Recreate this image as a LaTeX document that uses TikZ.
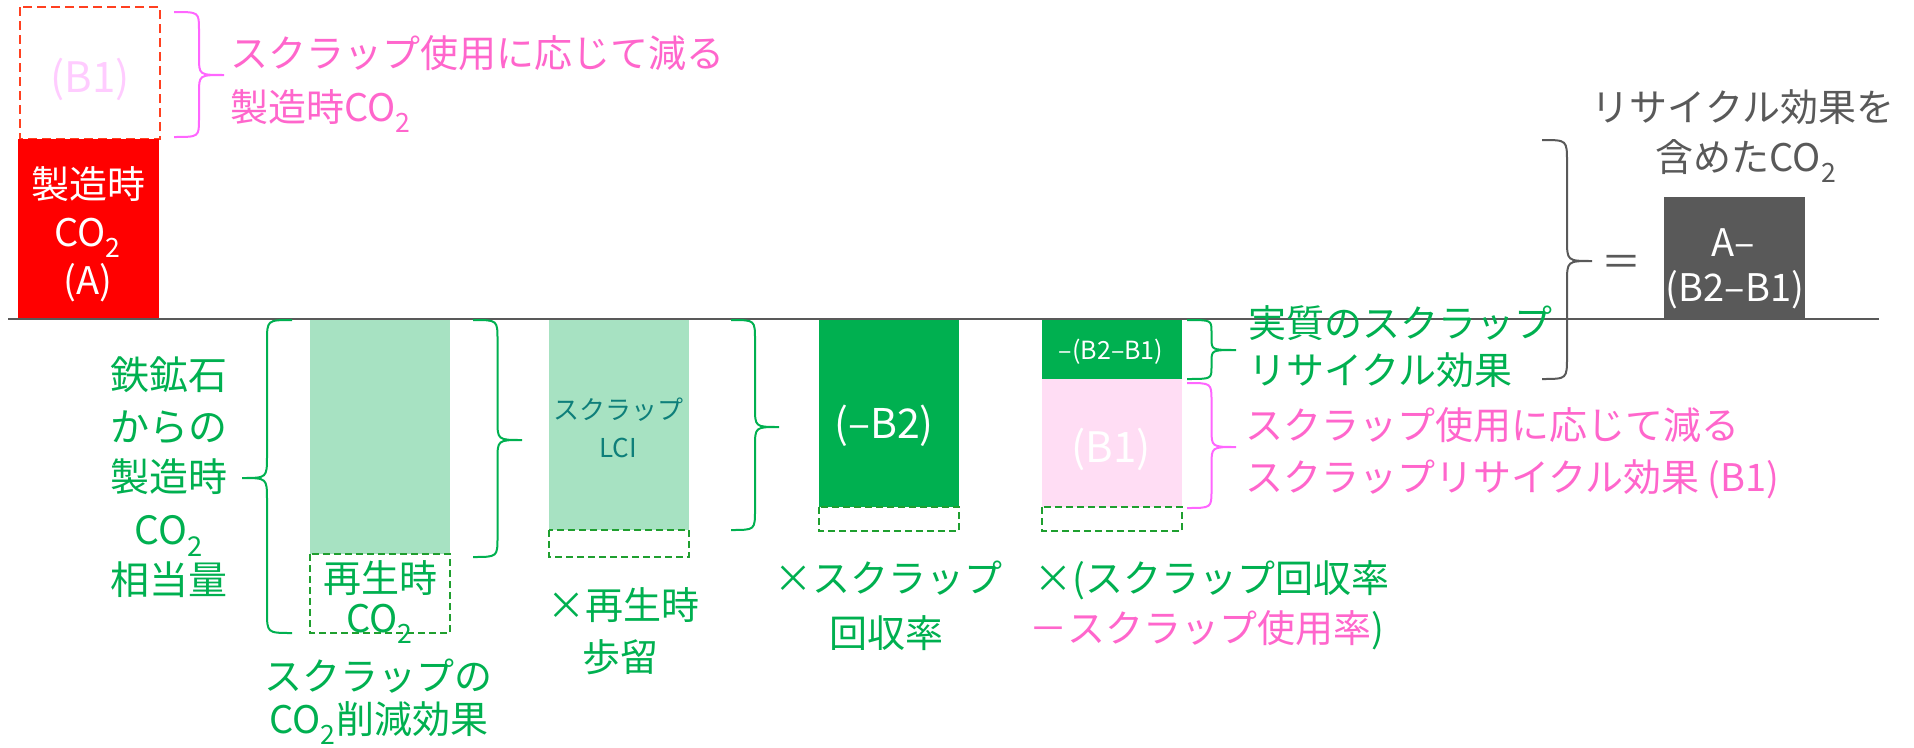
\documentclass[tikz,border=0pt]{standalone}
\usepackage{fontspec}
\setmainfont{Noto Sans CJK JP}
\definecolor{cred}{HTML}{FF0000}
\definecolor{cdred}{HTML}{FF4020}
\definecolor{cpink}{HTML}{FF66CC}
\definecolor{cpinkb}{HTML}{FF66FF}
\definecolor{cpale}{HTML}{FFCCFF}
\definecolor{cpinkbar}{HTML}{FFDDF4}
\definecolor{cgreen}{HTML}{00B050}
\definecolor{clgreen}{HTML}{A7E2C2}
\definecolor{cdgreen}{HTML}{1F9F2F}
\definecolor{cteal}{HTML}{0E7F7A}
\definecolor{cgray}{HTML}{595959}
\newcommand\fsz[1]{\fontsize{#1}{#1}\selectfont}
\newcommand\cotwo{CO\textsubscript{2}}
% text line: name, x, center y, size, color, anchor, text
\newcommand\tx[7]{\node[anchor=#6,text=#5,font=\fsz{#4},inner sep=0pt] (#1) at (#2,{#3+0.38*#4}) {#7};}
% brace: end x, tip x, top y, bottom y, tip y, R, style
\newcommand\brc[7]{%
  \pgfmathsetmacro\bm{(#1+#2)/2}%
  \draw[#7] (#1,#3) .. controls (\bm,#3) .. (\bm,{#3+#6}) -- (\bm,{#5-#6})
    .. controls (\bm,#5) .. (#2,#5) .. controls (\bm,#5) .. (\bm,{#5+#6})
    -- (\bm,{#4-#6}) .. controls (\bm,#4) .. (#1,#4);}
\tikzset{
  gbrace/.style={draw=cgreen,line width=2pt},
  pbrace/.style={draw=cpinkb,line width=2pt},
  kbrace/.style={draw=cgray,line width=2pt},
  gdash/.style={draw=cdgreen,line width=2pt,dash pattern=on 7pt off 4pt},
}
\begin{document}
\begin{tikzpicture}[x=1pt,y=-1pt]
\useasboundingbox (0,0) rectangle (1914,747);
% shapes
\draw[cdred,line width=2.3pt,dash pattern=on 9pt off 5pt] (20,7) rectangle (160,139);
\fill[cred] (18,139) rectangle (159,320);
\fill[cgray] (1664,197) rectangle (1805,319);
\fill[clgreen] (310,320) rectangle (450,554);
\draw[gdash] (310,554) rectangle (450,633);
\fill[clgreen] (549,320) rectangle (689,530);
\draw[gdash] (549,530) rectangle (689,557);
\fill[cgreen] (819,320) rectangle (959,507);
\draw[gdash] (819,507) rectangle (959,531);
\fill[cgreen] (1042,320) rectangle (1182,379);
\fill[cpinkbar] (1042,379) rectangle (1182,507);
\draw[gdash] (1042,507) rectangle (1182,531);
\draw[cgray,line width=2.5pt] (8,319) -- (1879,319);
% braces
\brc{174}{224}{12}{137}{75}{18}{pbrace}
\brc{292}{242}{320}{633}{478}{22}{gbrace}
\brc{473}{522}{320}{557}{440}{20}{gbrace}
\brc{731}{779}{320}{530}{427}{20}{gbrace}
\brc{1187}{1236}{320}{379}{350}{12}{gbrace}
\brc{1187}{1236}{383}{508}{447}{18}{pbrace}
\brc{1542}{1592}{140}{379}{261}{22}{kbrace}
% texts
\tx{b1top}{90}{77}{42}{cpale}{base}{(B1)}
\tx{pt1}{230}{53}{38}{cpink}{base west}{スクラップ使用に応じて減る}
\tx{pt2}{230}{107}{38}{cpink}{base west}{製造時\cotwo}
\tx{ra1}{88}{184}{38}{white}{base}{製造時}
\tx{ra2}{88}{232}{38}{white}{base}{\cotwo}
\tx{ra3}{88}{280}{38}{white}{base}{(A)}
\tx{lc1}{169}{375}{39}{cgreen}{base}{鉄鉱石}
\tx{lc2}{169}{427}{39}{cgreen}{base}{からの}
\tx{lc3}{169}{477}{39}{cgreen}{base}{製造時}
\tx{lc4}{169}{530}{39}{cgreen}{base}{\cotwo}
\tx{lc5}{169}{580}{39}{cgreen}{base}{相当量}
\tx{d11}{380}{578}{38}{cgreen}{base}{再生時}
\tx{d12}{380}{618}{38}{cgreen}{base}{\cotwo}
\tx{b21}{618}{410}{26}{cteal}{base}{スクラップ}
\tx{b22}{618}{448}{26}{cteal}{base}{LCI}
\tx{y1}{623}{605}{38}{cgreen}{base}{×再生時}
\tx{y2}{620}{657}{38}{cgreen}{base}{歩留}
\tx{s1}{378}{676}{38}{cgreen}{base}{スクラップの}
\tx{s2}{379}{719}{38}{cgreen}{base}{\cotwo 削減効果}
\tx{b3}{884}{423}{41}{white}{base}{(–B2)}
\tx{r1}{888}{578}{38}{cgreen}{base}{×スクラップ}
\tx{r2}{886}{633}{38}{cgreen}{base}{回収率}
\tx{b4a}{1111}{350}{25}{white}{base}{–(B2–B1)}
\tx{b4b}{1111}{447}{42}{white}{base}{(B1)}
\tx{g1}{1248}{323}{38}{cgreen}{base west}{実質のスクラップ}
\tx{g2}{1248}{370}{38}{cgreen}{base west}{リサイクル効果}
\tx{p1}{1245}{425}{38}{cpink}{base west}{スクラップ使用に応じて減る}
\tx{p2}{1245}{477}{38}{cpink}{base west}{スクラップリサイクル効果 (B1)}
\tx{f1}{1034}{578}{38}{cgreen}{base west}{×(スクラップ回収率}
\tx{f2}{1029}{628}{38}{cpink}{base west}{－スクラップ使用率\textcolor{cgreen}{)}}
\tx{t1}{1743}{107}{38}{cgray}{base}{リサイクル効果を}
\tx{t2}{1746}{157}{38}{cgray}{base}{含めた\cotwo}
\tx{eq}{1621}{261}{40}{cgray}{base}{＝}
\tx{k1}{1733}{242}{38}{white}{base}{A–}
\tx{k2}{1735}{287}{38}{white}{base}{(B2–B1)}
\end{tikzpicture}
\end{document}
